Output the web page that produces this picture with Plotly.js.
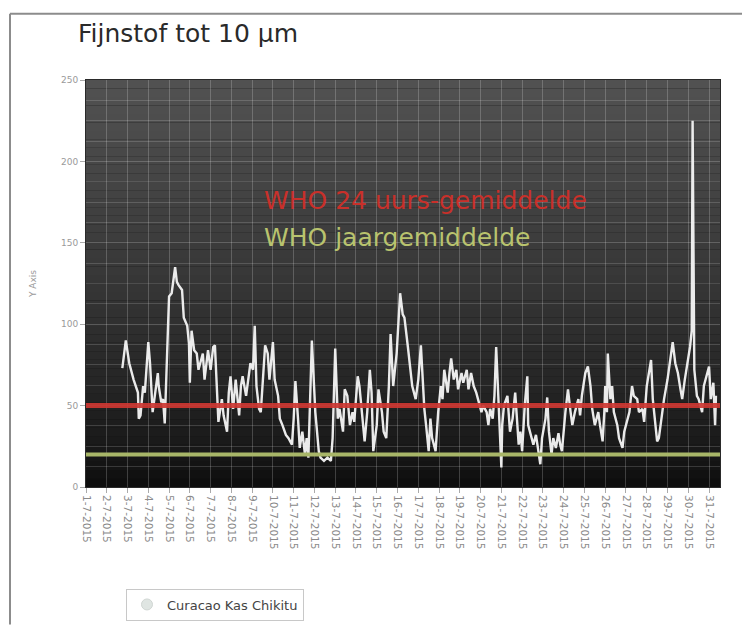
<!DOCTYPE html>
<html>
<head>
<meta charset="utf-8">
<script src="https://cdn.plot.ly/plotly-3.0.1.min.js"></script>
<style>
html,body{margin:0;padding:0;background:#fff;}
#chart{width:742px;height:633px;}
</style>
</head>
<body>
<div id="chart"></div>
<script>
// ---- data ----
const chartTitle = 'Fijnstof tot 10 μm';
const seriesName = 'Curacao Kas Chikitu';
const yAxisTitle = 'Y Axis';
const whoLimitValues = [50, 20];
const whoLimitLabels = ['WHO 24 uurs-gemiddelde', 'WHO jaargemiddelde'];
const xRange = ['2015-07-01 00:00', '2015-07-31 12:40'];
const yRange = [0, 250];

const times = [
'2015-07-02 18:00','2015-07-02 22:00',
'2015-07-03 02:00','2015-07-03 07:00','2015-07-03 12:00','2015-07-03 13:00','2015-07-03 15:00','2015-07-03 18:00','2015-07-03 20:00',
'2015-07-04 00:00','2015-07-04 02:00','2015-07-04 05:00','2015-07-04 08:00','2015-07-04 11:00','2015-07-04 12:00','2015-07-04 15:00','2015-07-04 17:00','2015-07-04 19:00','2015-07-04 23:00',
'2015-07-05 00:00','2015-07-05 03:00','2015-07-05 07:00','2015-07-05 09:00','2015-07-05 11:00','2015-07-05 15:00','2015-07-05 17:00','2015-07-05 21:00','2015-07-05 23:00',
'2015-07-06 00:00','2015-07-06 02:00','2015-07-06 05:00','2015-07-06 08:00','2015-07-06 10:00','2015-07-06 15:00','2015-07-06 17:00','2015-07-06 21:00',
'2015-07-07 00:00','2015-07-07 03:00','2015-07-07 05:00','2015-07-07 08:00','2015-07-07 09:00','2015-07-07 13:00','2015-07-07 15:00','2015-07-07 19:00','2015-07-07 21:00','2015-07-07 23:00',
'2015-07-08 02:00','2015-07-08 05:00','2015-07-08 09:00','2015-07-08 11:00','2015-07-08 13:00','2015-07-08 17:00','2015-07-08 20:00','2015-07-08 22:00',
'2015-07-09 01:00','2015-07-09 03:00','2015-07-09 05:00','2015-07-09 08:00','2015-07-09 10:00','2015-07-09 12:00','2015-07-09 15:00','2015-07-09 18:00','2015-07-09 20:00',
'2015-07-10 00:00','2015-07-10 02:00','2015-07-10 06:00','2015-07-10 08:00','2015-07-10 11:00','2015-07-10 15:00','2015-07-10 18:00','2015-07-10 22:00',
'2015-07-11 00:00','2015-07-11 02:00','2015-07-11 05:00','2015-07-11 07:00','2015-07-11 10:00','2015-07-11 13:00','2015-07-11 15:00','2015-07-11 17:00','2015-07-11 21:00','2015-07-11 23:00',
'2015-07-12 01:00','2015-07-12 05:00','2015-07-12 07:00','2015-07-12 11:00','2015-07-12 15:00','2015-07-12 19:00','2015-07-12 21:00',
'2015-07-13 00:00','2015-07-13 03:00','2015-07-13 05:00','2015-07-13 09:00','2015-07-13 11:00','2015-07-13 14:00','2015-07-13 17:00','2015-07-13 20:00','2015-07-13 22:00',
'2015-07-14 02:00','2015-07-14 04:00','2015-07-14 08:00','2015-07-14 10:00','2015-07-14 13:00','2015-07-14 16:00','2015-07-14 18:00','2015-07-14 20:00',
'2015-07-15 00:00','2015-07-15 02:00','2015-07-15 06:00','2015-07-15 08:00','2015-07-15 11:00','2015-07-15 14:00','2015-07-15 16:00','2015-07-15 18:00','2015-07-15 19:00','2015-07-15 23:00',
'2015-07-16 01:00','2015-07-16 03:00','2015-07-16 06:00','2015-07-16 08:00','2015-07-16 12:00','2015-07-16 15:00','2015-07-16 17:00','2015-07-16 21:00',
'2015-07-17 00:00','2015-07-17 03:00','2015-07-17 05:00','2015-07-17 07:00','2015-07-17 09:00','2015-07-17 12:00','2015-07-17 14:00','2015-07-17 16:00','2015-07-17 20:00','2015-07-17 23:00',
'2015-07-18 02:00','2015-07-18 04:00','2015-07-18 06:00','2015-07-18 10:00','2015-07-18 12:00','2015-07-18 14:00','2015-07-18 17:00','2015-07-18 20:00','2015-07-18 22:00',
'2015-07-19 02:00','2015-07-19 04:00','2015-07-19 08:00','2015-07-19 10:00','2015-07-19 13:00','2015-07-19 16:00','2015-07-19 19:00','2015-07-19 21:00',
'2015-07-20 01:00','2015-07-20 03:00','2015-07-20 07:00','2015-07-20 09:00','2015-07-20 11:00','2015-07-20 14:00','2015-07-20 16:00','2015-07-20 18:00','2015-07-20 21:00','2015-07-20 23:00',
'2015-07-21 00:00','2015-07-21 01:00','2015-07-21 03:00','2015-07-21 07:00','2015-07-21 09:00','2015-07-21 10:00','2015-07-21 13:00','2015-07-21 16:00','2015-07-21 20:00','2015-07-21 22:00',
'2015-07-22 00:00','2015-07-22 03:00','2015-07-22 06:00','2015-07-22 07:00','2015-07-22 11:00','2015-07-22 13:00','2015-07-22 16:00','2015-07-22 19:00','2015-07-22 21:00','2015-07-22 23:00',
'2015-07-23 03:00','2015-07-23 05:00','2015-07-23 07:00','2015-07-23 10:00','2015-07-23 12:00','2015-07-23 15:00','2015-07-23 18:00','2015-07-23 20:00','2015-07-23 22:00',
'2015-07-24 02:00','2015-07-24 05:00','2015-07-24 08:00','2015-07-24 10:00','2015-07-24 13:00','2015-07-24 17:00','2015-07-24 19:00','2015-07-24 21:00',
'2015-07-25 01:00','2015-07-25 04:00','2015-07-25 07:00','2015-07-25 09:00','2015-07-25 12:00','2015-07-25 16:00','2015-07-25 18:00','2015-07-25 21:00','2015-07-25 23:00',
'2015-07-26 00:00','2015-07-26 02:00','2015-07-26 03:00','2015-07-26 06:00','2015-07-26 08:00','2015-07-26 10:00','2015-07-26 14:00','2015-07-26 16:00','2015-07-26 20:00','2015-07-26 22:00',
'2015-07-27 01:00','2015-07-27 04:00','2015-07-27 07:00','2015-07-27 09:00','2015-07-27 13:00','2015-07-27 15:00','2015-07-27 19:00','2015-07-27 21:00',
'2015-07-28 00:00','2015-07-28 03:00','2015-07-28 05:00','2015-07-28 07:00','2015-07-28 10:00','2015-07-28 12:00','2015-07-28 14:00','2015-07-28 18:00','2015-07-28 20:00',
'2015-07-29 00:00','2015-07-29 02:00','2015-07-29 04:00','2015-07-29 06:00','2015-07-29 09:00','2015-07-29 12:00','2015-07-29 15:00','2015-07-29 17:00','2015-07-29 20:00',
'2015-07-30 00:00','2015-07-30 02:00','2015-07-30 04:00','2015-07-30 05:00','2015-07-30 07:00','2015-07-30 10:00','2015-07-30 12:00','2015-07-30 16:00','2015-07-30 18:00','2015-07-30 22:00',
'2015-07-31 00:00','2015-07-31 02:00','2015-07-31 05:00','2015-07-31 07:00','2015-07-31 08:00'
];

const pm10 = [
73,90,
76,66,58,42,44,62,58,
89,76,46,58,70,62,52,54,39,102,
117,119,135,126,124,121,104,99,88,
64,96,84,82,72,82,66,84,
72,86,87,58,40,54,44,34,58,68,
48,66,44,62,68,56,70,76,
72,99,62,48,46,62,87,82,66,
89,66,56,42,38,32,30,26,
42,65,42,24,34,20,30,18,90,64,
46,22,18,16,18,16,30,
85,42,48,34,60,56,38,46,40,
68,62,36,28,46,72,58,22,
38,60,46,34,30,62,94,66,62,82,
98,119,106,104,86,70,62,54,
66,87,66,48,38,22,42,30,22,46,
62,54,72,58,70,79,66,72,60,
70,64,72,60,70,62,58,54,
46,50,46,38,48,42,56,86,52,30,
12,38,50,56,38,34,42,58,26,34,
22,50,68,38,30,26,32,22,14,30,
42,55,34,20,30,24,33,26,22,
46,60,46,38,46,54,44,56,
70,74,62,48,38,46,38,28,46,
62,46,82,54,62,46,38,30,24,34,
40,46,62,56,54,46,48,40,
62,72,78,54,38,28,30,46,54,
66,74,82,89,76,70,60,54,66,
78,86,96,225,72,56,54,46,62,70,
74,54,64,38,56
];

// ---- styling helpers ----
const plotL = 86, plotR = 720, plotT = 80, plotB = 497, W = 742, H = 633;
const pw = plotR - plotL, ph = plotB - plotT;
const px = v => (v - plotL) / pw;          // page px -> paper x
const py = v => (plotB - v) / ph;          // page px -> paper y

const shapes = [];
// background gradient of the plot area (grey at top to black at bottom)
const N = 48;
for (let i = 0; i < N; i++) {
  const t = (i + 0.5) / N;
  const g = Math.round(12 + 70 * Math.pow(t, 0.75));
  shapes.push({type:'rect', xref:'paper', yref:'paper', x0:0, x1:1, y0:i/N, y1:(i+1)/N,
    fillcolor:`rgb(${g},${g},${g})`, line:{width:0}, layer:'below'});
}
// WHO limit lines
const limitColors = ['rgba(205,55,50,0.92)', 'rgb(168,182,104)'];
const limitWidths = [5, 4];
whoLimitValues.forEach((v, i) => {
  shapes.push({type:'line', xref:'paper', yref:'y', x0:0, x1:1, y0:v, y1:v,
    line:{color:limitColors[i], width:limitWidths[i]}, layer:'above'});
});
// outer frame of the picture
shapes.push({type:'line', xref:'paper', yref:'paper', x0:px(10), x1:px(W+5), y0:py(12), y1:py(12),
  line:{color:'#8c8c8c', width:2}});
shapes.push({type:'line', xref:'paper', yref:'paper', x0:px(10), x1:px(10), y0:py(12), y1:py(H+5),
  line:{color:'#8c8c8c', width:2}});

const labelColors = ['rgb(200,48,42)', 'rgb(185,195,110)'];
const labelY = [203, 241];
const annotations = whoLimitLabels.map((txt, i) => ({
  text: txt, xref:'paper', yref:'paper', x: px(262), y: py(labelY[i]),
  xanchor:'left', yanchor:'middle', showarrow:false,
  font:{family:'DejaVu Sans', size:25, color:labelColors[i]}
}));

const traces = [
  {
    type:'scatter', mode:'lines', x: times, y: pm10, name: seriesName,
    line:{color:'rgba(245,245,245,0.95)', width:2.4}, showlegend:false, hoverinfo:'skip'
  },
  {
    type:'scatter', mode:'markers', x:[null], y:[null], name: seriesName,
    marker:{color:'#dfe5e2', size:11, line:{color:'#d0d6d3', width:1}}, showlegend:true, hoverinfo:'skip'
  }
];

const layout = {
  width: W, height: H,
  margin:{l:plotL, r:W-plotR, t:plotT, b:H-plotB, pad:0},
  paper_bgcolor:'#ffffff',
  plot_bgcolor:'#111111',
  font:{family:'DejaVu Sans', color:'#888'},
  title:{text: chartTitle, xref:'container', yref:'container', x: 78/W, y: 1 - 33/H,
    xanchor:'left', yanchor:'middle', font:{family:'DejaVu Sans', size:25, color:'#2a2a2a'}},
  xaxis:{
    type:'date', range: xRange, tick0:'2015-07-01', dtick:86400000, tickformat:'%-d-%-m-%Y',
    tickangle:90, ticks:'outside', ticklen:5, tickcolor:'#aaa',
    tickfont:{family:'DejaVu Sans', size:10.5, color:'#8a8a8a'},
    showgrid:true, gridcolor:'rgba(255,255,255,0.2)', gridwidth:1,
    zeroline:false, showline:true, linecolor:'#2a2a2a', linewidth:1, mirror:true,
    automargin:false, fixedrange:true
  },
  yaxis:{
    range: yRange, tick0:0, dtick:50, ticks:'outside', ticklen:5, tickcolor:'#aaa',
    tickfont:{family:'DejaVu Sans', size:9, color:'#9a9a9a'},
    showgrid:true, gridcolor:'rgba(255,255,255,0.2)', gridwidth:1,
    minor:{dtick:12.5, showgrid:true, gridcolor:'rgba(255,255,255,0.16)', gridwidth:1, ticks:''},
    zeroline:false, showline:true, linecolor:'#2a2a2a', linewidth:1, mirror:true,
    title:{text: yAxisTitle, standoff:22, font:{family:'DejaVu Sans', size:9, color:'#9a9a9a'}},
    automargin:false, fixedrange:true
  },
  showlegend:true,
  legend:{x: px(126), y: py(601), xanchor:'left', yanchor:'top', bgcolor:'#ffffff',
    bordercolor:'#c8c8c8', borderwidth:1, font:{family:'DejaVu Sans', size:13, color:'#444'}},
  shapes: shapes,
  annotations: annotations
};

Plotly.newPlot('chart', traces, layout, {staticPlot:true, displayModeBar:false});
</script>
</body>
</html>
